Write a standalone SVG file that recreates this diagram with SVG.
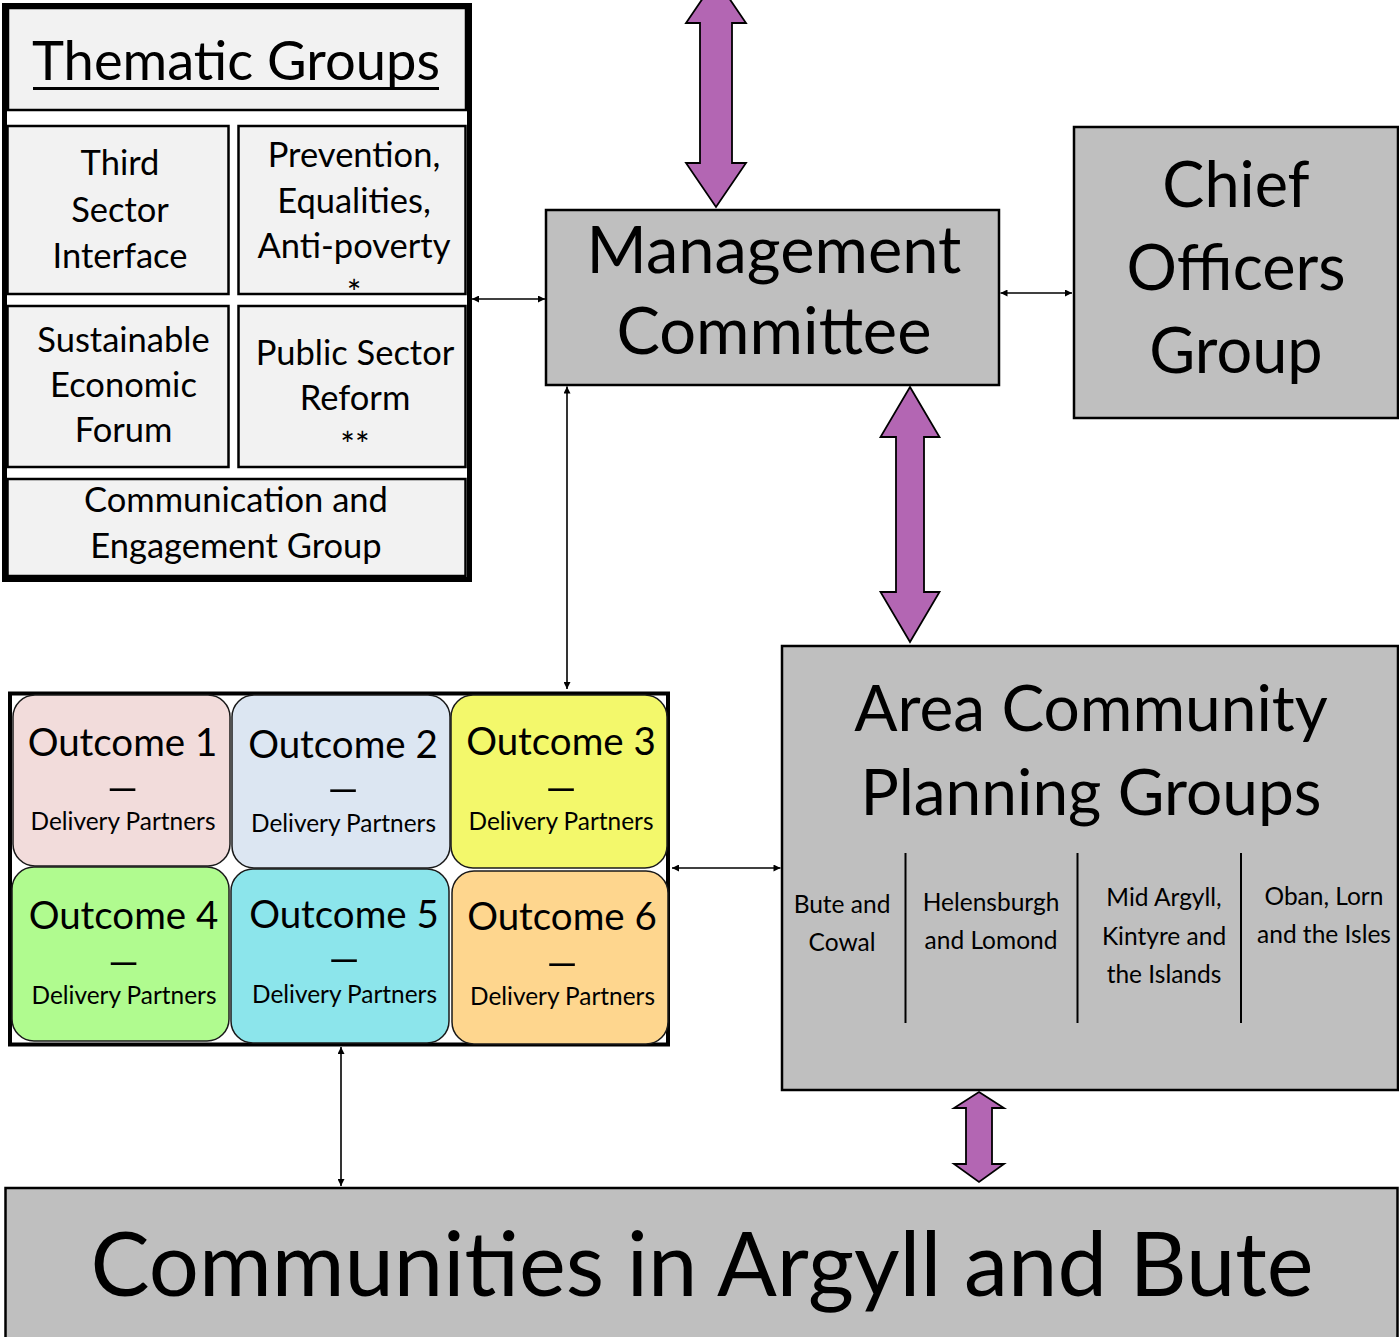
<svg xmlns="http://www.w3.org/2000/svg" width="1399" height="1337" viewBox="0 0 1399 1337">
  <style>
    text { font-family: Lato, "Open Sans", sans-serif; fill: #000; text-anchor: middle; }
    .cell { fill: #f2f2f2; stroke: #000; stroke-width: 2.5; }
    .grey { fill: #bfbfbf; stroke: #000; stroke-width: 2.5; }
    .ct { font-size: 34.5px; }
    .big { font-size: 64px; }
    .oc { stroke: #1a1a1a; stroke-width: 1.5; }
    .ot { font-size: 38.5px; }
    .dash { font-size: 40px; }
    .od { font-size: 24.4px; }
    .at { font-size: 24.5px; }
    .thin { stroke: #000; stroke-width: 1.6; fill: none; marker-start: url(#tip); marker-end: url(#tip); }
    .fat { fill: #b366b3; stroke: #000; stroke-width: 1.8; stroke-linejoin: miter; }
  </style>
  <defs>
    <marker id="tip" viewBox="0 0 10 10" refX="10" refY="5" markerWidth="8" markerHeight="7" markerUnits="userSpaceOnUse" orient="auto-start-reverse">
      <path d="M0,0 L10,5 L0,10 Z" fill="#000"/>
    </marker>
  </defs>
  <rect width="1399" height="1337" fill="#fff"/>

  <!-- Thematic groups panel -->
  <g id="thematic-groups">
    <rect class="cell" x="8" y="8" width="458" height="102"/>
    <text x="236" y="80" style="font-size:54.3px">Thematic Groups</text>
    <line x1="33" y1="88.5" x2="439" y2="88.5" stroke="#000" stroke-width="3"/>
  </g>
  <g id="third-sector">
    <rect class="cell" x="7.5" y="126" width="221" height="168"/>
    <text class="ct" x="120" y="175">Third</text>
    <text class="ct" x="120" y="222">Sector</text>
    <text class="ct" x="120" y="268">Interface</text>
  </g>
  <g id="prevention">
    <rect class="cell" x="238.5" y="126" width="227" height="168"/>
    <text class="ct" x="354" y="167">Prevention,</text>
    <text class="ct" x="354" y="213">Equalities,</text>
    <text class="ct" x="354" y="258">Anti-poverty</text>
    <text class="ct" x="354" y="305">*</text>
  </g>
  <g id="economic-forum">
    <rect class="cell" x="7.5" y="306" width="221" height="161"/>
    <text class="ct" x="123.5" y="352">Sustainable</text>
    <text class="ct" x="123.5" y="397">Economic</text>
    <text class="ct" x="123.5" y="442">Forum</text>
  </g>
  <g id="public-sector">
    <rect class="cell" x="238.5" y="306" width="227" height="161"/>
    <text class="ct" x="355" y="365">Public Sector</text>
    <text class="ct" x="355" y="410">Reform</text>
    <text class="ct" x="355" y="457">**</text>
  </g>
  <g id="communication">
    <rect class="cell" x="7.5" y="479" width="458" height="97"/>
    <text class="ct" x="236" y="512">Communication and</text>
    <text class="ct" x="236" y="558">Engagement Group</text>
  </g>
  <rect x="4.5" y="5.5" width="465" height="574" fill="none" stroke="#000" stroke-width="5"/>

  <!-- Management committee -->
  <g id="management">
    <rect class="grey" x="546" y="210" width="453" height="175"/>
    <text class="big" x="774" y="273" style="font-size:65px">Management</text>
    <text class="big" x="774" y="354" style="font-size:65px">Committee</text>
  </g>

  <!-- Chief officers -->
  <g id="chief-officers">
    <rect class="grey" x="1074" y="127" width="324" height="291"/>
    <text class="big" x="1236" y="207" style="font-size:63px">Chief</text>
    <text class="big" x="1236" y="290" style="font-size:63px">Officers</text>
    <text class="big" x="1236" y="373" style="font-size:63px">Group</text>
  </g>

  <!-- Outcome delivery grid; the dash is widened with a horizontal scale -->
  <g id="outcomes">
    <rect x="10" y="693.5" width="658" height="351" fill="#fff" stroke="#000" stroke-width="4"/>
    <g id="outcome-1">
      <rect class="oc" x="13" y="695" width="217" height="171" rx="22" fill="#f2dcdb"/>
      <text class="ot" x="122.5" y="756">Outcome 1</text>
      <text class="dash" transform="translate(122.5,802) scale(1.6,1)">–</text>
      <text class="od" x="123" y="830">Delivery Partners</text>
    </g>
    <g id="outcome-2">
      <rect class="oc" x="232" y="695" width="218" height="173" rx="22" fill="#dce6f2"/>
      <text class="ot" x="343" y="758">Outcome 2</text>
      <text class="dash" transform="translate(343,803) scale(1.6,1)">–</text>
      <text class="od" x="343.5" y="832">Delivery Partners</text>
    </g>
    <g id="outcome-3">
      <rect class="oc" x="451" y="695" width="216" height="173" rx="22" fill="#f3f86b"/>
      <text class="ot" x="561" y="755">Outcome 3</text>
      <text class="dash" transform="translate(561,802) scale(1.6,1)">–</text>
      <text class="od" x="561" y="830">Delivery Partners</text>
    </g>
    <g id="outcome-4">
      <rect class="oc" x="12" y="867" width="217" height="174" rx="22" fill="#b0fb8f"/>
      <text class="ot" x="123.5" y="929">Outcome 4</text>
      <text class="dash" transform="translate(123.5,976) scale(1.6,1)">–</text>
      <text class="od" x="124" y="1004">Delivery Partners</text>
    </g>
    <g id="outcome-5">
      <rect class="oc" x="231" y="869" width="218" height="174" rx="22" fill="#8ce5eb"/>
      <text class="ot" x="344" y="928">Outcome 5</text>
      <text class="dash" transform="translate(344,973) scale(1.6,1)">–</text>
      <text class="od" x="344.5" y="1003">Delivery Partners</text>
    </g>
    <g id="outcome-6">
      <rect class="oc" x="452" y="871" width="216" height="173" rx="22" fill="#fed68e"/>
      <text class="ot" x="562" y="930">Outcome 6</text>
      <text class="dash" transform="translate(562,977) scale(1.6,1)">–</text>
      <text class="od" x="562.5" y="1005">Delivery Partners</text>
    </g>
  </g>

  <!-- Area community planning groups -->
  <g id="area-groups">
    <rect class="grey" x="782" y="646" width="616" height="444"/>
    <text class="big" x="1091" y="731">Area Community</text>
    <text class="big" x="1091" y="815">Planning Groups</text>
    <g stroke="#000" stroke-width="2">
      <line x1="905.5" y1="853" x2="905.5" y2="1023"/>
      <line x1="1077.5" y1="853" x2="1077.5" y2="1023"/>
      <line x1="1241" y1="853" x2="1241" y2="1023"/>
    </g>
    <text class="at" x="842" y="913">Bute and</text>
    <text class="at" x="842" y="951">Cowal</text>
    <text class="at" x="991" y="911">Helensburgh</text>
    <text class="at" x="991" y="949">and Lomond</text>
    <text class="at" x="1164" y="906">Mid Argyll,</text>
    <text class="at" x="1164" y="945">Kintyre and</text>
    <text class="at" x="1164" y="983">the Islands</text>
    <text class="at" x="1324" y="905">Oban, Lorn</text>
    <text class="at" x="1324" y="943">and the Isles</text>
  </g>

  <!-- Communities -->
  <g id="communities">
    <rect class="grey" x="5.5" y="1188" width="1392" height="160"/>
    <text x="702" y="1296" style="font-size:88.5px">Communities in Argyll and Bute</text>
  </g>

  <!-- Connectors -->
  <g id="connectors">
    <line class="thin" x1="472" y1="299" x2="545" y2="299"/>
    <line class="thin" x1="1000.5" y1="293" x2="1072" y2="293"/>
    <line class="thin" x1="567" y1="386.5" x2="567" y2="689"/>
    <line class="thin" x1="672" y1="868" x2="780.5" y2="868"/>
    <line class="thin" x1="341" y1="1047" x2="341" y2="1186"/>
    <polygon class="fat" points="716,-21 746,23 732,23 732,163 746,163 716,207 686,163 700,163 700,23 686,23"/>
    <polygon class="fat" points="910,387 939.5,437 924,437 924,592 939.5,592 910,642 880.5,592 896,592 896,437 880.5,437"/>
    <polygon class="fat" points="979,1092 1004,1108 992,1108 992,1164 1004,1164 979,1182 954,1164 966,1164 966,1108 954,1108"/>
  </g>
</svg>
